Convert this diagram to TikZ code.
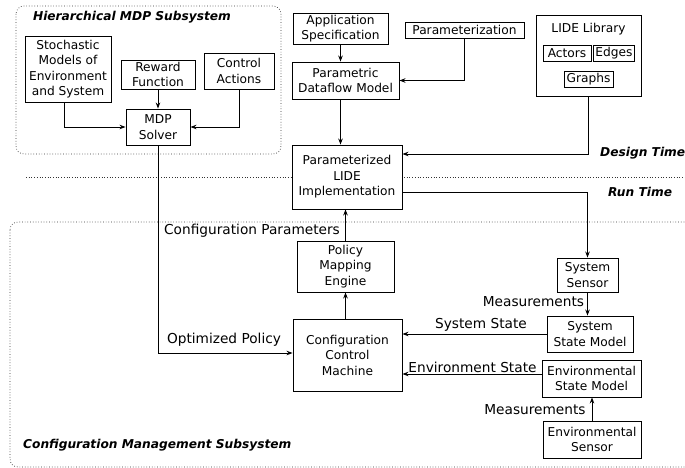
\documentclass[tikz,border=0pt]{standalone}
\usepackage{fontspec}
\setmainfont{DejaVu Sans}
\usetikzlibrary{arrows.meta}

\newcommand{\boxfont}{\fontsize{12.2}{15.5}\selectfont}
\newcommand{\msgfont}{\fontsize{13.7}{16}\selectfont}
\newcommand{\subfont}{\fontsize{12.2}{15}\selectfont\bfseries\itshape}

\begin{document}
\begin{tikzpicture}[x=1pt, y=-1pt, auto,
    block/.style ={draw, fill=white, line width=0.9pt, align=center, inner sep=0pt, font=\boxfont},
    msg/.style ={inner sep=0pt, font=\msgfont},
    subtitle/.style ={inner sep=0pt, font=\subfont},
    subsystem/.style ={draw, black!80, line width=0.7pt, dash pattern=on 0.7pt off 2pt, rounded corners=8pt},
    flow/.style ={-{Stealth[length=6pt,width=4.5pt]}, line width=0.9pt}]
   \useasboundingbox (0,0) rectangle (685,468);

   % subsystem frames and time separator
   \draw[subsystem] (16,6) rectangle (281,154);
   \draw[subsystem] (10,222) rectangle (700,467);
   \draw[black!80, line width=0.7pt, dash pattern=on 0.7pt off 2pt] (26,177) -- (685,177);

   % hierarchical MDP subsystem
   \node[block, minimum width=86, minimum height=66] (stoch) at (68,69) {Stochastic\\Models of\\Environment\\and System};
   \node[block, minimum width=74, minimum height=29] (reward) at (158,74.5) {Reward\\Function};
   \node[block, minimum width=70, minimum height=36] (control) at (239,71) {Control\\Actions};
   \node[block, minimum width=64, minimum height=36] (mdp) at (158,127) {MDP\\Solver};

   % design time
   \node[block, minimum width=95, minimum height=31] (appspec) at (340.5,28.5) {Application\\Specification};
   \node[block, minimum width=119, minimum height=16] (param) at (464.5,30) {Parameterization};
   \node[block, minimum width=107, minimum height=37] (pdm) at (345.5,80.5) {Parametric\\Dataflow Model};
   \node[block, minimum width=105, minimum height=81] (lidelib) at (588.5,55.5) {};
   \node[inner sep=0pt, font=\boxfont] (lidetitle) at (588.5,29) {LIDE Library};
   \node[block, minimum width=48, minimum height=16] (actors) at (567,53) {Actors};
   \node[block, minimum width=41, minimum height=16] (edges) at (614,53) {Edges};
   \node[block, minimum width=49, minimum height=16] (graphs) at (588.5,79) {Graphs};
   \node[block, minimum width=110, minimum height=64] (pli) at (347,177) {Parameterized\\LIDE\\Implementation};

   % configuration management subsystem
   \node[block, minimum width=97, minimum height=51] (pme) at (345.5,266.5) {Policy\\Mapping\\Engine};
   \node[block, minimum width=109, minimum height=72] (ccm) at (347.5,355) {Configuration\\Control\\Machine};
   \node[block, minimum width=61, minimum height=34] (syssensor) at (587.5,275) {System\\Sensor};
   \node[block, minimum width=86, minimum height=36] (ssm) at (590,334) {System\\State Model};
   \node[block, minimum width=99, minimum height=37] (esm) at (591.5,378.5) {Environmental\\State Model};
   \node[block, minimum width=98, minimum height=37] (es) at (592,439.5) {Environmental\\Sensor};

   % titles
   \node[subtitle] (hiertitle) at (132,17) {Hierarchical MDP Subsystem};
   \node[subtitle, anchor=west] (designtime) at (600,153) {Design Time};
   \node[subtitle, anchor=west] (runtime) at (608,192) {Run Time};
   \node[subtitle, anchor=west] (cfgtitle) at (23,445) {Configuration Management Subsystem};

   % connectors
   \draw[flow] ([xshift=-4pt]stoch.south) |- (mdp.west);
   \draw[flow] (reward) to (mdp);
   \draw[flow] (control.south) |- (mdp.east);
   \draw[flow] (mdp.south) |- ([yshift=2pt]ccm.west);
   \draw[flow] (appspec.south) -- (appspec.south |- pdm.north);
   \draw[flow] (param.south) |- (pdm.east);
   \draw[flow] (appspec.south |- pdm.south) -- (appspec.south |- pli.north);
   \draw[flow] (lidelib.south) |- ([yshift=23pt]pli.east);
   \draw[flow] ([yshift=-15pt]pli.east) -| (syssensor.north);
   \draw[flow] (syssensor.south) -- (syssensor.south |- ssm.north);
   \draw[flow] (ssm.west) -- (ssm.west -| ccm.east);
   \draw[flow] ([yshift=4.5pt]esm.west) -- ([yshift=4.5pt]esm.west -| ccm.east);
   \draw[flow] (es.north) -- (es.north |- esm.south);
   \draw[flow] (pme.south |- ccm.north) -- (pme.south);
   \draw[flow] (pme.north) -- (pme.north |- pli.south);

   % connector labels
   \node[msg] (cfgparams) at (252,231) {Configuration Parameters};
   \node[msg] (optpolicy) at (224,340) {Optimized Policy};
   \node[msg] (sysmeas) at (533.5,302) {Measurements};
   \node[msg] (sysstate) at (481,325) {System State};
   \node[msg] (envstate) at (472.5,367) {Environment State};
   \node[msg] (envmeas) at (535,410) {Measurements};
 \end{tikzpicture}
\end{document}
